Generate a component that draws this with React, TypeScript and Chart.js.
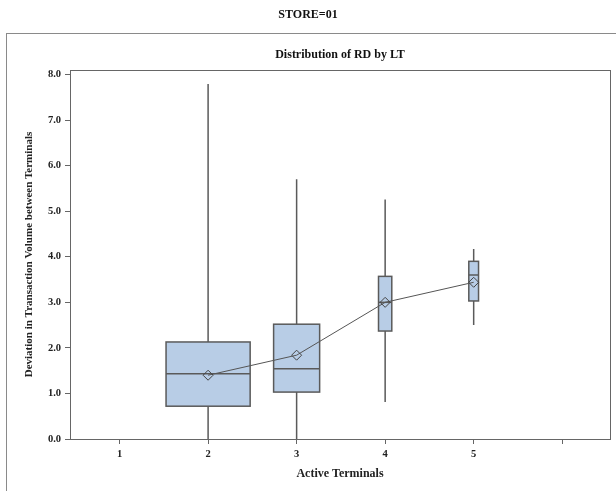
import React, { useEffect, useRef } from "react";
import { Chart, registerables } from "chart.js";
Chart.register(...registerables);

// ---- data ----
const categories = [2, 3, 4, 5];
const whiskerLow = [0.0, 0.0, 0.81, 2.5];
const q1 = [0.72, 1.03, 2.37, 3.03];
const median = [1.43, 1.54, 3.0, 3.6];
const q3 = [2.13, 2.52, 3.57, 3.9];
const whiskerHigh = [7.79, 5.7, 5.26, 4.17];
const means = [1.4, 1.84, 3.0, 3.44];
const xTicks = [1, 2, 3, 4, 5, 6];
const xTickLabels = ["1", "2", "3", "4", "5", ""];
const yTicks = [0, 1, 2, 3, 4, 5, 6, 7, 8];

// ---- style ----
const boxWidths = [0.95, 0.52, 0.15, 0.11]; // in x-axis units
const SERIF = "'Liberation Serif', 'Times New Roman', serif";
const BOX_FILL = "#b8cde6";
const LINE = "#5a5a5a";

const boxPlugin = {
  id: "boxes",
  beforeDatasetsDraw(chart: any) {
    const { ctx } = chart;
    const x = chart.scales.x;
    const y = chart.scales.y;
    ctx.save();
    categories.forEach((c, i) => {
      const xc = x.getPixelForValue(c);
      const xl = x.getPixelForValue(c - boxWidths[i] / 2);
      const xr = x.getPixelForValue(c + boxWidths[i] / 2);
      const yLo = y.getPixelForValue(whiskerLow[i]);
      const yQ1 = y.getPixelForValue(q1[i]);
      const yMed = y.getPixelForValue(median[i]);
      const yQ3 = y.getPixelForValue(q3[i]);
      const yHi = y.getPixelForValue(whiskerHigh[i]);
      ctx.strokeStyle = LINE;
      ctx.lineWidth = 1.5;
      ctx.beginPath();
      ctx.moveTo(xc, yLo);
      ctx.lineTo(xc, yQ1);
      ctx.moveTo(xc, yQ3);
      ctx.lineTo(xc, yHi);
      ctx.stroke();
      ctx.fillStyle = BOX_FILL;
      ctx.fillRect(xl, yQ3, xr - xl, yQ1 - yQ3);
      ctx.strokeRect(xl, yQ3, xr - xl, yQ1 - yQ3);
      ctx.beginPath();
      ctx.moveTo(xl, yMed);
      ctx.lineTo(xr, yMed);
      ctx.stroke();
    });
    ctx.restore();
  },
  afterDraw(chart: any) {
    const { ctx, chartArea } = chart;
    ctx.save();
    ctx.strokeStyle = "#666";
    ctx.lineWidth = 1;
    ctx.strokeRect(
      Math.round(chartArea.left) + 0.5,
      Math.round(chartArea.top) + 0.5,
      Math.round(chartArea.right - chartArea.left),
      Math.round(chartArea.bottom - chartArea.top)
    );
    ctx.fillStyle = "#111";
    ctx.textAlign = "center";
    ctx.textBaseline = "middle";
    ctx.font = `bold 12px ${SERIF}`;
    ctx.fillText("STORE=01", 308, 15);
    ctx.fillText(
      "Distribution of RD by LT",
      (chartArea.left + chartArea.right) / 2,
      55
    );
    ctx.restore();
  },
};

export default function App() {
  const ref = useRef<HTMLCanvasElement>(null);
  useEffect(() => {
    if (!ref.current) return;
    const chart = new Chart(ref.current, {
      type: "scatter",
      data: {
        datasets: [
          {
            data: means.map((m, i) => ({ x: categories[i], y: m })),
            showLine: true,
            borderColor: "#555",
            borderWidth: 1,
            pointStyle: "rectRot",
            pointRadius: 5,
            pointBorderColor: "#444",
            pointBackgroundColor: "rgba(0,0,0,0)",
            pointBorderWidth: 1,
          } as any,
        ],
      },
      options: {
        responsive: false,
        animation: false,
        layout: { padding: { left: 0, top: 70, right: 6, bottom: 0 } },
        plugins: { legend: { display: false }, tooltip: { enabled: false } },
        scales: {
          x: {
            type: "linear",
            min: 0.44,
            max: 6.54,
            afterBuildTicks: (s: any) => {
              s.ticks = xTicks.map((v) => ({ value: v }));
            },
            afterFit: (s: any) => {
              s.height = 52;
            },
            ticks: {
              padding: 4,
              color: "#222",
              font: { family: SERIF, size: 10.5, weight: "bold" },
              callback: (_v: any, i: number) => xTickLabels[i],
            },
            grid: {
              drawOnChartArea: false,
              drawTicks: true,
              tickLength: 5,
              color: "#666",
            },
            border: { display: true, color: "#666" },
            title: {
              display: true,
              text: "Active Terminals",
              color: "#222",
              font: { family: SERIF, size: 12, weight: "bold" },
              padding: { top: 0, bottom: 10 },
            },
          },
          y: {
            type: "linear",
            min: 0,
            max: 8.1,
            afterBuildTicks: (s: any) => {
              s.ticks = yTicks.map((v) => ({ value: v }));
            },
            afterFit: (s: any) => {
              s.width = 70;
            },
            ticks: {
              padding: 4,
              color: "#222",
              font: { family: SERIF, size: 10.5, weight: "bold" },
              callback: (v: any) => Number(v).toFixed(1),
            },
            grid: {
              drawOnChartArea: false,
              drawTicks: true,
              tickLength: 5,
              color: "#666",
            },
            border: { display: true, color: "#666" },
            title: {
              display: true,
              text: "Deviation in Transaction Volume between Terminals",
              color: "#222",
              font: { family: SERIF, size: 11, weight: "bold" },
              padding: { top: 23, bottom: 0 },
            },
          },
        },
      },
      plugins: [boxPlugin],
    });
    return () => chart.destroy();
  }, []);
  return (
    <div
      style={{
        position: "fixed",
        left: 0,
        top: 0,
        width: 616,
        height: 491,
        overflow: "hidden",
        background: "#fff",
      }}
    >
      <div
        style={{
          position: "absolute",
          left: 6,
          top: 33,
          width: 700,
          height: 600,
          border: "1px solid #8a8a8a",
        }}
      />
      <canvas
        ref={ref}
        width={616}
        height={491}
        style={{ position: "absolute", left: 0, top: 0, width: 616, height: 491 }}
      />
    </div>
  );
}
